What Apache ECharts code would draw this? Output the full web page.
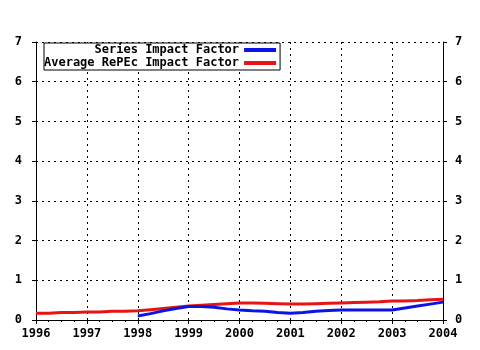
<!DOCTYPE html>
<html>
<head>
<meta charset="utf-8">
<script src="https://cdn.jsdelivr.net/npm/echarts@6/dist/echarts.min.js"></script>
<style>
  html, body { margin: 0; padding: 0; background: #fff; }
  #myChart { width: 480px; height: 350px; }
</style>
</head>
<body>
<div id="myChart"></div>
<script>
// data (quarterly points)
var avgYears = [1996, 1996.25, 1996.5, 1996.75, 1997, 1997.25, 1997.5, 1997.75, 1998, 1998.25, 1998.5, 1998.75,
  1999, 1999.25, 1999.5, 1999.75, 2000, 2000.25, 2000.5, 2000.75, 2001, 2001.25, 2001.5, 2001.75,
  2002, 2002.25, 2002.5, 2002.75, 2003, 2003.25, 2003.5, 2003.75, 2004];
var avgValues = [0.17, 0.17, 0.19, 0.19, 0.20, 0.20, 0.22, 0.22, 0.23, 0.26, 0.29, 0.32,
  0.35, 0.37, 0.39, 0.41, 0.43, 0.43, 0.42, 0.41, 0.40, 0.40, 0.41, 0.42,
  0.43, 0.44, 0.45, 0.46, 0.48, 0.48, 0.49, 0.51, 0.52];
var seriesYears = [1998, 1998.25, 1998.5, 1998.75, 1999, 1999.25, 1999.5, 1999.75, 2000, 2000.25, 2000.5, 2000.75,
  2001, 2001.25, 2001.5, 2001.75, 2002, 2002.5, 2003, 2003.25, 2003.5, 2003.75, 2004];
var seriesValues = [0.10, 0.16, 0.23, 0.29, 0.34, 0.34, 0.32, 0.28, 0.25, 0.23, 0.22, 0.19,
  0.17, 0.19, 0.22, 0.24, 0.25, 0.25, 0.25, 0.30, 0.35, 0.40, 0.45];
var seriesNames = ["Series Impact Factor", "Average RePEc Impact Factor"];

function pairs(xs, ys) {
  return xs.map(function (x, i) { return [x, ys[i]]; });
}

var font = { fontFamily: "DejaVu Sans Mono", fontWeight: "bold", fontSize: 12, color: "#000" };
var longest = Math.max.apply(null, seriesNames.map(function (s) { return s.length; }));

var chart = echarts.init(document.getElementById("myChart"));
chart.setOption({
  animation: false,
  backgroundColor: "#fff",
  grid: { left: 36, right: 37, top: 42, bottom: 30 },
  legend: {
    data: seriesNames,
    orient: "vertical",
    align: "right",
    left: 44,
    top: 43,
    padding: [1, 4, 1, 0],
    itemGap: 1,
    itemWidth: 32,
    itemHeight: 4,
    icon: "rect",
    borderColor: "#000",
    borderWidth: 1,
    backgroundColor: "#fff",
    textStyle: font,
    formatter: function (name) {
      return new Array(longest - name.length + 1).join(" ") + name;
    }
  },
  xAxis: [{
    type: "value",
    min: 1996,
    max: 2004,
    interval: 1,
    axisLine: { lineStyle: { color: "#000" } },
    axisTick: { length: 4, lineStyle: { color: "#000" } },
    minorTick: { show: true, splitNumber: 4, length: 2, lineStyle: { color: "#000" } },
    axisLabel: Object.assign({ margin: 8, formatter: function (v) { return String(v); } }, font),
    splitLine: { show: true, lineStyle: { color: "#000", type: [2, 4] } }
  }, {
    type: "value",
    position: "top",
    min: 1996,
    max: 2004,
    interval: 1,
    axisLine: { show: true, lineStyle: { color: "#000" } },
    axisTick: { inside: true, length: 3, lineStyle: { color: "#000" } },
    minorTick: { show: true, splitNumber: 4, length: 2, lineStyle: { color: "#000" } },
    axisLabel: { show: false },
    splitLine: { show: false }
  }],
  yAxis: [{
    type: "value",
    min: 0,
    max: 7,
    interval: 1,
    axisLine: { show: true, lineStyle: { color: "#000" } },
    axisTick: { show: true, length: 4, lineStyle: { color: "#000" } },
    axisLabel: Object.assign({ margin: 14 }, font),
    splitLine: { show: true, lineStyle: { color: "#000", type: [2, 4] } }
  }, {
    type: "value",
    position: "right",
    min: 0,
    max: 7,
    interval: 1,
    axisLine: { show: true, lineStyle: { color: "#000" } },
    axisTick: { show: true, length: 4, lineStyle: { color: "#000" } },
    axisLabel: Object.assign({ margin: 12 }, font),
    splitLine: { show: false }
  }],
  series: [{
    name: seriesNames[0],
    type: "line",
    showSymbol: false,
    data: pairs(seriesYears, seriesValues),
    color: "#0a14e6",
    lineStyle: { width: 3 },
    z: 3
  }, {
    name: seriesNames[1],
    type: "line",
    showSymbol: false,
    data: pairs(avgYears, avgValues),
    color: "#e61414",
    lineStyle: { width: 3 },
    z: 2
  }]
});
</script>
</body>
</html>
